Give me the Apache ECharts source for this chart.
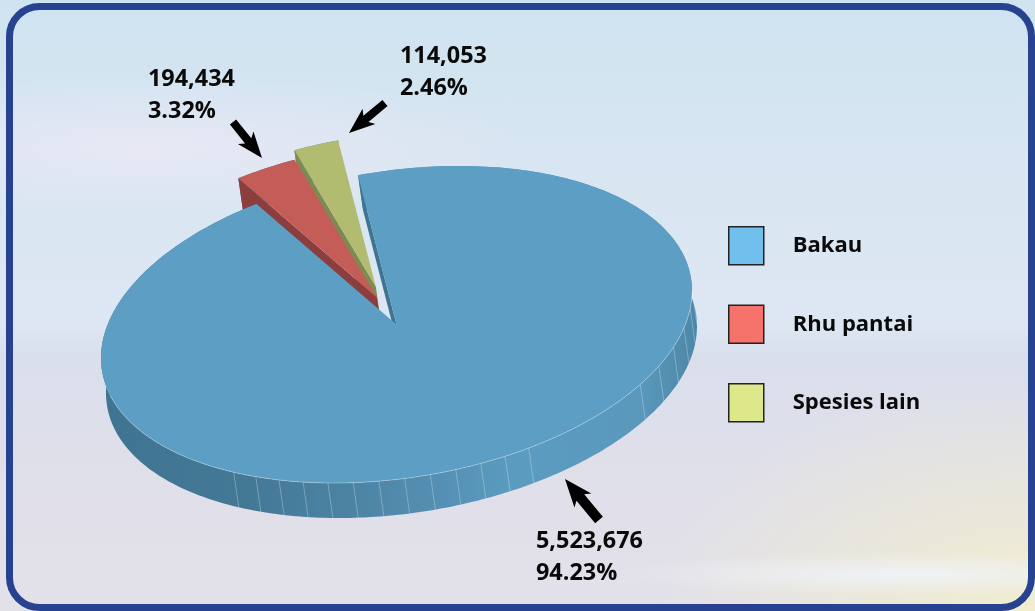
<!DOCTYPE html>
<html>
<head>
<meta charset="utf-8">
<script src="https://cdn.jsdelivr.net/npm/echarts@6/dist/echarts.min.js"></script>
<style>
html, body { margin: 0; padding: 0; }
#chart {
    width: 1035px;
    height: 611px;
    background:
        radial-gradient(ellipse 300px 22px at 88% 94%, rgba(240,243,250,.9), transparent 100%),
        radial-gradient(ellipse 380px 230px at 100% 100%, rgba(245,240,200,.8), transparent 100%),
        radial-gradient(ellipse 400px 70px at 14% 24%, rgba(236,232,245,.8), transparent 100%),
        linear-gradient(180deg, #cfe3f0 0, #d8e6f2 28%, #dde7f3 53%, #dadfec 58%, #dfdfea 75%, #e3e1e8 100%);
}
</style>
</head>
<body>
<div id="chart"></div>
<script>
const categories = ['Bakau', 'Rhu pantai', 'Spesies lain'];
const treeCounts = [5523676, 194434, 114053];
const sharePct = [94.23, 3.32, 2.46];

const topColors = ['#5d9fc4', '#c45c58', '#b2bc71'];
const cutColors = ['#3f7592', '#8c3d3e', '#7d8a52'];
const legendColors = ['#70bfec', '#f6736c', '#dde88b'];

// tilted ellipse the flat pie is squashed onto
const cx = 396.5, cy = 324.5, radA = 298.1, radB = 153.6, tilt = 8.83 * Math.PI / 180;
const depthX = 5, depthY = 35;
const startDeg = 92.9;
const explode = [[0, 0], [-0.051, 0.193], [-0.049, 0.264]];
const outerR = [1, 0.99, 0.98];

const total = sharePct.reduce((a, b) => a + b, 0);
let from = startDeg;
const sliceAngles = sharePct.map(function (p) {
    let to = from - p / total * 360;
    let pair = [from, to];
    from = to;
    return pair;
});

function toScreen(deg, r, off, down) {
    let a = deg * Math.PI / 180;
    let sx = (Math.cos(a) * r + off[0]) * radA;
    let sy = (Math.sin(a) * r + off[1]) * radB;
    let x = cx + sx * Math.cos(tilt) - sy * Math.sin(tilt);
    let y = cy - (sx * Math.sin(tilt) + sy * Math.cos(tilt));
    return down ? [x + depthX, y + depthY] : [x, y];
}

function arcPoints(a0, a1, r, off, down) {
    let n = Math.max(2, Math.ceil(Math.abs(a1 - a0)));
    let pts = [];
    for (let i = 0; i <= n; i++) {
        pts.push(toScreen(a0 + (a1 - a0) * i / n, r, off, down));
    }
    return pts;
}

function renderSlice(idx) {
    return function () {
        let [a0, a1] = sliceAngles[idx];
        let off = explode[idx], r = outerR[idx];
        let children = [];
        let top = arcPoints(a0, a1, r, off, false);
        let low = arcPoints(a0, a1, r, off, true);
        let apex = toScreen(0, 0, off, false), apexLow = toScreen(0, 0, off, true);

        // rim, only Bakau shows it
        children.push({
            type: 'polygon',
            shape: { points: top.concat(low.slice().reverse()) },
            style: {
                fill: new echarts.graphic.LinearGradient(105, 0, 697, 0, [
                    { offset: 0, color: '#3f7592' },
                    { offset: 0.25, color: '#447996' },
                    { offset: 0.45, color: '#4e86a7' },
                    { offset: 0.7, color: '#5c9cc1' },
                    { offset: 0.9, color: '#5a99bc' },
                    { offset: 1, color: '#4d87a8' }
                ], true)
            }
        });
        if (idx === 0) {
            let seams = [];
            for (let d = -128; d <= -68; d += 5) seams.push(d);
            for (let d = -39; d <= -4; d += 7) seams.push(d);
            seams.forEach(function (d) {
                let p = toScreen(d, 1, off, false), q = toScreen(d, 1, off, true);
                children.push({
                    type: 'line',
                    shape: { x1: p[0], y1: p[1], x2: q[0], y2: q[1] },
                    style: { stroke: 'rgba(255,255,255,0.28)', lineWidth: 1 }
                });
            });
        }

        // cut face on the left edge of each slice
        let outer = toScreen(a0, r, off, false), outerLow = toScreen(a0, r, off, true);
        children.push({
            type: 'polygon',
            shape: { points: [outer, apex, apexLow, outerLow] },
            style: { fill: cutColors[idx] }
        });

        // top face
        children.push({
            type: 'polygon',
            shape: { points: [apex].concat(top) },
            style: { fill: topColors[idx] }
        });
        if (idx === 0) {
            children.push({
                type: 'polyline',
                shape: { points: arcPoints(-170, -5, 1, off, false) },
                style: { stroke: 'rgba(255,255,255,0.3)', lineWidth: 1, fill: null }
            });
        }
        return { type: 'group', children: children };
    };
}

function arrow(tail, tip, shaftW, headW, headL) {
    let dx = tip[0] - tail[0], dy = tip[1] - tail[1];
    let len = Math.sqrt(dx * dx + dy * dy);
    let ux = dx / len, uy = dy / len, nx = -uy, ny = ux;
    let bx = tip[0] - ux * headL, by = tip[1] - uy * headL;
    let neckX = bx + ux * 4, neckY = by + uy * 4;
    return {
        type: 'polygon',
        shape: {
            points: [
                tip,
                [bx + nx * headW / 2, by + ny * headW / 2],
                [neckX + nx * shaftW / 2, neckY + ny * shaftW / 2],
                [tail[0] + nx * shaftW / 2, tail[1] + ny * shaftW / 2],
                [tail[0] - nx * shaftW / 2, tail[1] - ny * shaftW / 2],
                [neckX - nx * shaftW / 2, neckY - ny * shaftW / 2],
                [bx - nx * headW / 2, by - ny * headW / 2]
            ]
        },
        style: { fill: '#000' },
        z: 10
    };
}

function valueLabel(i, x, y) {
    return {
        type: 'text',
        x: x,
        y: y,
        z: 10,
        style: {
            text: treeCounts[i].toLocaleString('en-US') + '\n' + sharePct[i].toFixed(2) + '%',
            font: 'bold 23.4px "Open Sans"',
            lineHeight: 32,
            fill: '#0a0a0a'
        }
    };
}

// draw order back to front: the far slices first, Bakau on top
const drawOrder = [2, 1, 0];

const chart = echarts.init(document.getElementById('chart'), null, { renderer: 'canvas' });
chart.setOption({
    animation: false,
    legend: {
        orient: 'vertical',
        left: 723,
        top: 221,
        itemWidth: 35,
        itemHeight: 38,
        itemGap: 39,
        selectedMode: false,
        textStyle: {
            fontFamily: 'Open Sans',
            fontWeight: 700,
            fontSize: 22,
            color: '#0a0a0a',
            padding: [4, 0, 0, 24]
        },
        data: categories.map(function (name, i) {
            return {
                name: name,
                icon: 'rect',
                itemStyle: { color: legendColors[i], borderColor: '#222', borderWidth: 1.5 }
            };
        })
    },
    graphic: [
        {
            type: 'rect',
            shape: { x: 9.5, y: 6.5, width: 1022, height: 601, r: 30 },
            style: { fill: null, stroke: '#264290', lineWidth: 7 },
            z: 20
        },
        valueLabel(1, 148, 63),
        valueLabel(2, 400, 40),
        valueLabel(0, 536, 525),
        arrow([233, 122], [262, 158], 8, 20, 26),
        arrow([385, 103], [349, 133], 8, 20, 26),
        arrow([599, 520], [565, 479], 10, 22, 28)
    ],
    series: drawOrder.map(function (i) {
        return {
            type: 'custom',
            name: categories[i],
            coordinateSystem: 'none',
            silent: true,
            itemStyle: { color: legendColors[i] },
            data: [[treeCounts[i], sharePct[i]]],
            renderItem: renderSlice(i)
        };
    })
});
</script>
</body>
</html>
